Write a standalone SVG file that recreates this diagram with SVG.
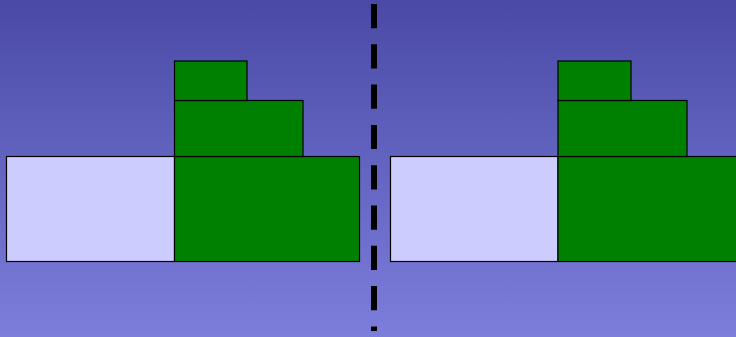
<svg xmlns="http://www.w3.org/2000/svg" width="736" height="337" viewBox="0 0 736 337">
<defs>
<linearGradient id="bg" x1="0" y1="0" x2="0" y2="1">
<stop offset="0" stop-color="#4a4aa6"/>
<stop offset="1" stop-color="#7d7ddc"/>
</linearGradient>
<style>
.light{fill:#ccccff;stroke:#000;stroke-width:1.2}
.green{fill:#008000;stroke:#000;stroke-width:1.2}
.dash{stroke:#000;stroke-width:6;stroke-dasharray:24.2 16.1;fill:none}
</style>
</defs>
<rect x="0" y="0" width="736" height="337" fill="url(#bg)"/>
<g id="left">
<rect id="l-light" class="light" x="6.5" y="156.5" width="168" height="105"/>
<rect id="l-big" class="green" x="174.5" y="156.5" width="185" height="105"/>
<rect id="l-mid" class="green" x="174.5" y="100.5" width="128.5" height="56"/>
<rect id="l-top" class="green" x="174.5" y="61" width="72.5" height="39.5"/>
</g>
<g id="right">
<rect id="r-light" class="light" x="390.5" y="156.5" width="167.5" height="105"/>
<rect id="r-big" class="green" x="558" y="156.5" width="185" height="105"/>
<rect id="r-mid" class="green" x="558" y="100.5" width="129" height="56"/>
<rect id="r-top" class="green" x="558" y="61" width="73" height="39.5"/>
</g>
<g id="connectors">
<line class="dash" x1="374" y1="4" x2="374" y2="331"/>
</g>
</svg>
